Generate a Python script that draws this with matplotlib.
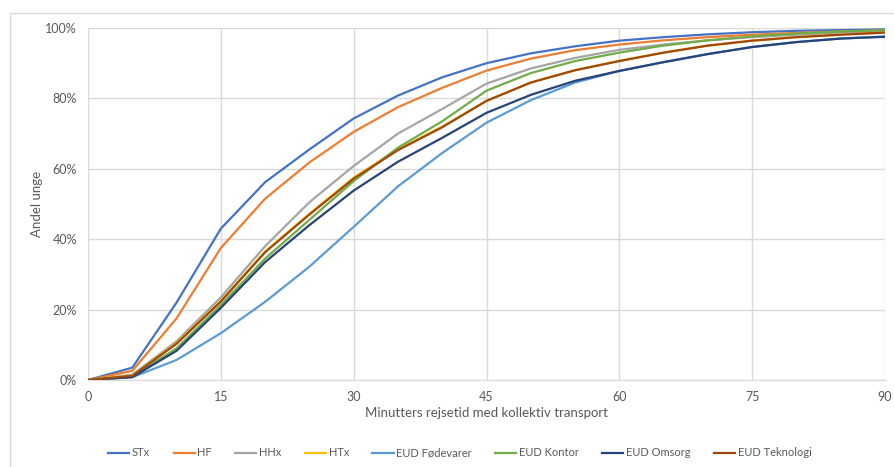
import matplotlib
matplotlib.use("Agg")
import matplotlib.pyplot as plt
from matplotlib.patches import Rectangle
from matplotlib.ticker import PercentFormatter

minutes = [0, 5, 10, 15, 20, 25, 30, 35, 40, 45, 50, 55, 60, 65, 70, 75, 80, 85, 90]

stx = [0, 3.5, 22.0, 43.0, 56.2, 65.5, 74.3, 80.8, 86.0, 90.0, 92.8, 94.8, 96.4, 97.4, 98.2, 98.8, 99.2, 99.4, 99.6]
hf = [0, 2.6, 17.5, 37.5, 51.5, 61.8, 70.5, 77.5, 83.0, 87.9, 91.3, 93.7, 95.3, 96.5, 97.4, 98.1, 98.6, 99.0, 99.3]
hhx = [0, 1.5, 11.0, 23.5, 38.0, 50.5, 60.8, 70.0, 77.0, 84.2, 88.5, 91.5, 93.8, 95.3, 96.5, 97.4, 98.1, 98.7, 99.1]
htx = [0, 1.3, 10.5, 22.5, 36.5, 47.2, 57.5, 65.5, 72.0, 79.3, 84.5, 88.0, 90.7, 93.0, 95.0, 96.4, 97.4, 98.1, 98.7]
eud_foedevarer = [0, 0.8, 5.7, 13.3, 22.2, 32.2, 43.5, 55.0, 64.5, 73.1, 79.5, 84.5, 87.8, 90.3, 92.6, 94.6, 96.0, 97.0, 97.6]
eud_kontor = [0, 1.0, 9.0, 21.3, 34.5, 45.5, 56.5, 66.0, 73.5, 82.2, 87.2, 90.6, 93.0, 95.0, 96.5, 97.6, 98.4, 99.0, 99.4]
eud_omsorg = [0, 0.8, 8.3, 20.5, 33.5, 44.0, 53.8, 62.0, 68.8, 75.9, 81.0, 85.0, 87.8, 90.3, 92.6, 94.6, 96.0, 97.0, 97.5]
eud_teknologi = [0, 1.2, 10.3, 22.3, 36.3, 47.0, 57.2, 65.3, 71.8, 79.3, 84.5, 88.0, 90.6, 93.0, 95.0, 96.4, 97.4, 98.1, 98.7]

series = [
    ("STx", stx, "#4472C4"),
    ("HF", hf, "#ED7D31"),
    ("HHx", hhx, "#A5A5A5"),
    ("HTx", htx, "#FFC000"),
    ("EUD Fødevarer", eud_foedevarer, "#5B9BD5"),
    ("EUD Kontor", eud_kontor, "#70AD47"),
    ("EUD Omsorg", eud_omsorg, "#264478"),
    ("EUD Teknologi", eud_teknologi, "#9E480E"),
]

plt.rcParams["font.family"] = ["Lato", "DejaVu Sans"]
TXT = "#595959"
GRID = "#D9D9D9"

fig = plt.figure(figsize=(8.94, 4.67), dpi=100)
ax = fig.add_axes([88 / 894, 1 - 380 / 467, (885 - 88) / 894, (380 - 28) / 467])

for name, vals, col in series:
    ax.plot(minutes, vals, color=col, lw=1.6, label=name, solid_joinstyle="round")

ax.set_xlim(0, 90)
ax.set_ylim(0, 100)
ax.set_xticks(range(0, 91, 15))
ax.set_yticks(range(0, 101, 20))
ax.yaxis.set_major_formatter(PercentFormatter(decimals=0))
ax.grid(True, color=GRID, lw=1)
ax.set_axisbelow(True)
for s in ("top", "right", "left"):
    ax.spines[s].set_visible(False)
ax.spines["bottom"].set_color(GRID)
ax.tick_params(length=0, labelsize=9, colors=TXT, pad=8)

ax.set_xlabel("Minutters rejsetid med kollektiv transport", fontsize=9.5, color=TXT)
ax.set_ylabel("Andel unge", fontsize=9.5, color=TXT)
ax.xaxis.set_label_coords(0.5, (380 - 413) / 352, transform=ax.transAxes)
ax.xaxis.label.set_va("center")
ax.yaxis.set_label_coords((37 - 88) / 797, 0.5, transform=ax.transAxes)
ax.yaxis.label.set_va("center")

fig.legend(loc="center", bbox_to_anchor=(460 / 894, 1 - 453 / 467), ncol=8, frameon=False,
           fontsize=8, labelcolor=TXT, handlelength=1.9, handletextpad=0.25, columnspacing=2.1)

# outer chart border
fig.patches.append(Rectangle((10 / 894, -0.01), 1.0, 1 - 13 / 467 + 0.01, transform=fig.transFigure,
                             fill=False, edgecolor=GRID, lw=1))

fig.savefig("out.png", dpi=100)
